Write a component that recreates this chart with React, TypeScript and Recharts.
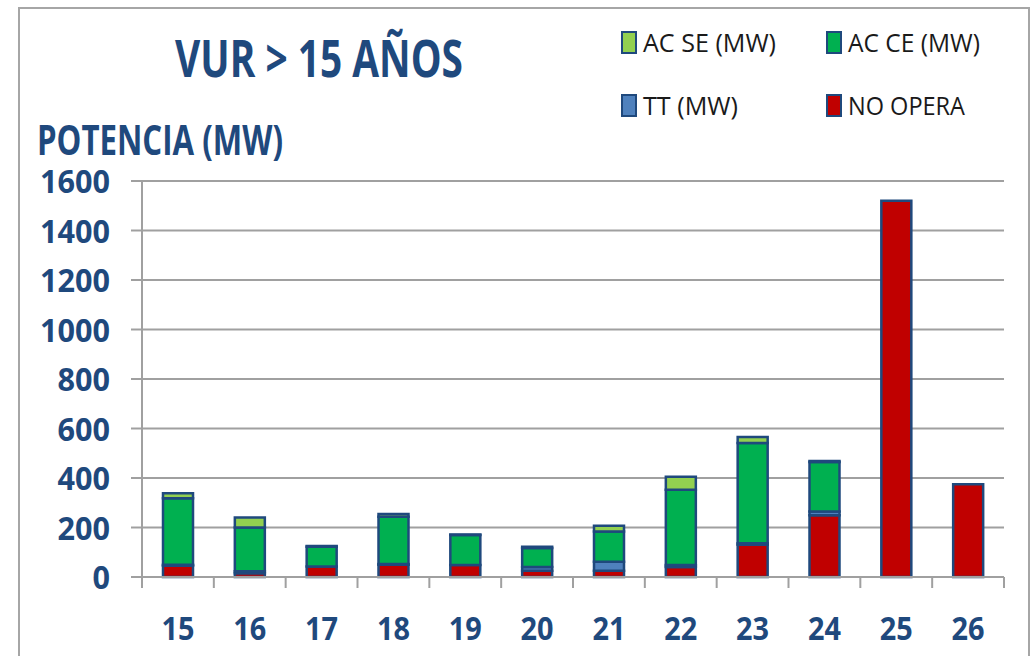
import { BarChart, Bar, XAxis, YAxis, CartesianGrid } from 'recharts';

const categories = ['15', '16', '17', '18', '19', '20', '21', '22', '23', '24', '25', '26'];
const noOpera = [45, 15, 42, 50, 48, 25, 25, 40, 130, 250, 1520, 375];
const tt = [5, 8, 0, 3, 0, 15, 37, 8, 6, 15, 0, 0];
const acCe = [268, 177, 80, 190, 122, 77, 122, 305, 405, 200, 0, 0];
const acSe = [20, 40, 3, 12, 2, 5, 23, 52, 25, 4, 0, 0];
const yTicks = [0, 200, 400, 600, 800, 1000, 1200, 1400, 1600];

const data = categories.map((cat, i) => ({
  cat,
  noOpera: noOpera[i],
  tt: tt[i],
  acCe: acCe[i],
  acSe: acSe[i],
}));

const BLUE = '#1F497D';
const GRID = '#A0A0A0';
const FONT = '"Open Sans", Lato, sans-serif';

const W = 1033;
const H = 656;
const PLOT_LEFT = 142;
const PLOT_RIGHT = 1004;
const PLOT_TOP = 181;
const PLOT_BOTTOM = 577;
const BAND = (PLOT_RIGHT - PLOT_LEFT) / categories.length;

const XTick = (props: any) => {
  const { x, y, payload, index } = props;
  const left = x - BAND / 2;
  return (
    <g>
      <line x1={left} y1={y} x2={left} y2={y + 11} stroke={GRID} strokeWidth={2} />
      {index === categories.length - 1 && (
        <line x1={left + BAND} y1={y} x2={left + BAND} y2={y + 11} stroke={GRID} strokeWidth={2} />
      )}
      <text
        x={x}
        y={640}
        textAnchor="middle"
        fill={BLUE}
        fontFamily={FONT}
        fontWeight={700}
        fontSize={33}
        textLength={payload.value.length * 16.5}
        lengthAdjust="spacingAndGlyphs"
      >
        {payload.value}
      </text>
    </g>
  );
};

const YTick = (props: any) => {
  const { x, y, payload } = props;
  const label = String(payload.value);
  return (
    <g>
      <line x1={x - 11} y1={y} x2={x} y2={y} stroke={GRID} strokeWidth={2} />
      <text
        x={110}
        y={y + 12}
        textAnchor="end"
        fill={BLUE}
        fontFamily={FONT}
        fontWeight={700}
        fontSize={33}
        textLength={label.length * 17.5}
        lengthAdjust="spacingAndGlyphs"
      >
        {label}
      </text>
    </g>
  );
};

const legendItems = [
  { label: 'AC SE (MW)', color: '#92D050', x: 622, y: 32, len: 133 },
  { label: 'AC CE (MW)', color: '#00B050', x: 827, y: 32, len: 132 },
  { label: 'TT (MW)', color: '#4F81BD', x: 622, y: 95, len: 95 },
  { label: 'NO OPERA', color: '#C00000', x: 827, y: 95, len: 117 },
];

const App = () => {
  return (
    <div style={{ position: 'absolute', left: 0, top: 0, width: W, height: H, background: '#fff', overflow: 'hidden' }}>
      <BarChart
        width={W}
        height={H}
        data={data}
        margin={{ top: PLOT_TOP, right: W - PLOT_RIGHT, bottom: 0, left: 0 }}
        barSize={30}
      >
        <CartesianGrid vertical={false} stroke={GRID} strokeWidth={2} />
        <XAxis
          dataKey="cat"
          axisLine={{ stroke: GRID, strokeWidth: 2 }}
          tickLine={false}
          tickSize={0}
          tickMargin={0}
          height={H - PLOT_BOTTOM}
          tick={<XTick />}
          interval={0}
        />
        <XAxis
          xAxisId="top"
          dataKey="cat"
          orientation="top"
          height={0}
          tick={false}
          tickLine={false}
          axisLine={{ stroke: BLUE, strokeWidth: 2 }}
        />
        <YAxis
          width={PLOT_LEFT}
          domain={[0, 1600]}
          ticks={yTicks}
          axisLine={{ stroke: GRID, strokeWidth: 2 }}
          tickLine={false}
          tickSize={0}
          tickMargin={0}
          tick={<YTick />}
          interval={0}
        />
        <YAxis
          yAxisId="right"
          orientation="right"
          width={0}
          domain={[0, 1600]}
          tick={false}
          tickLine={false}
          axisLine={{ stroke: BLUE, strokeWidth: 2 }}
        />
        <Bar dataKey="noOpera" name="NO OPERA" stackId="a" fill="#C00000" stroke={BLUE} strokeWidth={2.5} isAnimationActive={false} />
        <Bar dataKey="tt" name="TT (MW)" stackId="a" fill="#4F81BD" stroke={BLUE} strokeWidth={2.5} isAnimationActive={false} />
        <Bar dataKey="acCe" name="AC CE (MW)" stackId="a" fill="#00B050" stroke={BLUE} strokeWidth={2.5} isAnimationActive={false} />
        <Bar dataKey="acSe" name="AC SE (MW)" stackId="a" fill="#92D050" stroke={BLUE} strokeWidth={2.5} isAnimationActive={false} />
      </BarChart>
      <svg width={W} height={H} style={{ position: 'absolute', left: 0, top: 0, pointerEvents: 'none' }}>
        <rect x={19} y={8} width={1010} height={680} fill="none" stroke="#A6A6A6" strokeWidth={2} />
        <text
          x={175}
          y={77}
          fill={BLUE}
          fontFamily={FONT}
          fontWeight={700}
          fontSize={52}
          textLength={288}
          lengthAdjust="spacingAndGlyphs"
        >
          VUR &gt; 15 AÑOS
        </text>
        <text
          x={37}
          y={155}
          fill={BLUE}
          fontFamily={FONT}
          fontWeight={700}
          fontSize={42}
          textLength={246}
          lengthAdjust="spacingAndGlyphs"
        >
          POTENCIA (MW)
        </text>
        {legendItems.map((item) => (
          <g key={item.label}>
            <rect x={item.x} y={item.y} width={14} height={21} fill={item.color} stroke={BLUE} strokeWidth={2} />
            <text
              x={item.x + 21}
              y={item.y + 20}
              fill="#1a1a1a"
              fontFamily={FONT}
              fontSize={26}
              textLength={item.len}
              lengthAdjust="spacingAndGlyphs"
            >
              {item.label}
            </text>
          </g>
        ))}
      </svg>
    </div>
  );
};

export default App;
